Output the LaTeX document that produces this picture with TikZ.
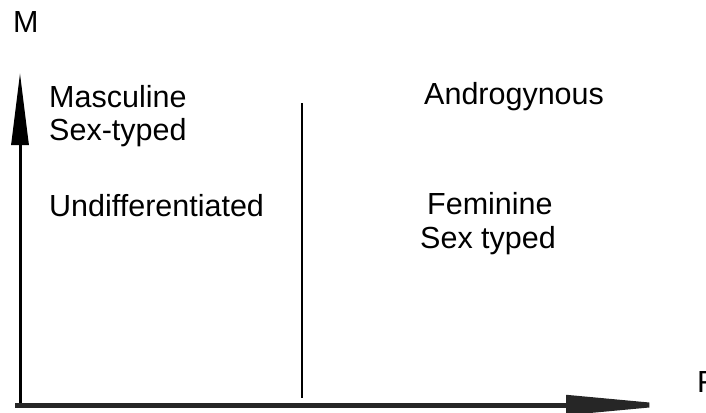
\documentclass[tikz,border=0pt]{standalone}
\usepackage{fontspec}
\setmainfont{Liberation Sans}
\usetikzlibrary{arrows.meta}
\begin{document}
\begin{tikzpicture}[x=1pt,y=-1pt,
  lbl/.style={anchor=base west,inner sep=0pt,font=\fontsize{30.5}{36}\selectfont},
  axis/.style={line width=3pt,black}]
\useasboundingbox (0,0) rectangle (706,412);
% axes
\coordinate (o) at (20,404);
\coordinate (ytip) at (20,73);
\coordinate (xstart) at (15,405);
\coordinate (xtip) at (679,405);
\draw[line width=3pt,-{Triangle[length=72pt,width=17pt]}] (o) -- (ytip);
\draw[line width=5pt,black!85,-{Triangle[length=113pt,width=19pt]}] (xstart) -- (xtip);
% divider
\coordinate (dtop) at (302,103);
\coordinate (dbot) at (302,398);
\draw[line width=2.4pt] (dtop) -- (dbot);
% labels
\node[lbl] (m) at (13,33) {M};
\node[lbl] (f) at (697,392) {F};
\node[lbl] (masc) at (49,107) {Masculine};
\node[lbl] (masc2) at (49,140) {Sex-typed};
\node[lbl] (andro) at (424,104) {Androgynous};
\node[lbl] (undiff) at (49,216) {Undifferentiated};
\node[lbl] (fem) at (427,214) {Feminine};
\node[lbl] (fem2) at (420,248) {Sex typed};
\end{tikzpicture}
\end{document}
